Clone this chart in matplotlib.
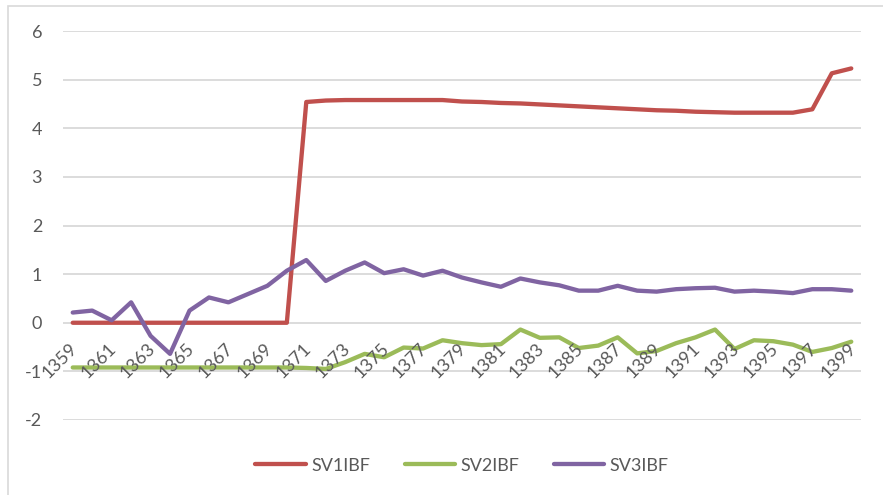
import matplotlib.pyplot as plt
from matplotlib.patches import Rectangle
from matplotlib.transforms import ScaledTranslation
import numpy as np

years = list(range(1359, 1400))

sv1 = [0, 0, 0, 0, 0, 0, 0, 0, 0, 0, 0, 0,
       4.54, 4.57, 4.58, 4.58, 4.58, 4.58, 4.58, 4.58, 4.55, 4.54,
       4.52, 4.51, 4.49, 4.47, 4.45, 4.43, 4.41, 4.39, 4.37, 4.36,
       4.34, 4.33, 4.32, 4.32, 4.32, 4.32, 4.39, 5.13, 5.23]

sv2 = [-0.92, -0.92, -0.92, -0.92, -0.92, -0.92, -0.92, -0.92, -0.92, -0.92,
       -0.92, -0.92, -0.93, -0.95, -0.81, -0.64, -0.71, -0.51, -0.53, -0.36,
       -0.42, -0.46, -0.44, -0.14, -0.31, -0.30, -0.52, -0.47, -0.30, -0.63,
       -0.58, -0.42, -0.30, -0.14, -0.54, -0.36, -0.38, -0.45, -0.60, -0.52,
       -0.39]

sv3 = [0.21, 0.25, 0.05, 0.42, -0.27, -0.64, 0.25, 0.52, 0.42, 0.59,
       0.76, 1.07, 1.29, 0.86, 1.07, 1.24, 1.02, 1.10, 0.97, 1.07,
       0.93, 0.83, 0.74, 0.91, 0.83, 0.77, 0.66, 0.66, 0.76, 0.66,
       0.64, 0.69, 0.71, 0.72, 0.64, 0.66, 0.64, 0.61, 0.69, 0.69,
       0.66]

labels = ['SV1IBF', 'SV2IBF', 'SV3IBF']
colors = ['#C0504D', '#9BBB59', '#8064A2']
tick_years = years[::2]

plt.rcParams['font.family'] = ['Lato', 'DejaVu Sans']
plt.rcParams['axes.unicode_minus'] = False
grey = '#595959'

fig = plt.figure(figsize=(8.83, 4.95), dpi=100)
ax = fig.add_axes([63 / 883, 1 - 420 / 495, (861 - 63) / 883, (420 - 31) / 495])

for series, lab, c in zip([sv1, sv2, sv3], labels, colors):
    ax.plot(years, series, color=c, lw=3.1, label=lab, solid_joinstyle='round',
            solid_capstyle='round', zorder=3)

ax.set_xlim(1358.5, 1399.5)
ax.set_ylim(-2, 6)
ax.set_yticks(range(-2, 7))
ax.yaxis.grid(True, color='#D9D9D9', lw=1.3)
ax.set_axisbelow(True)

for s in ['top', 'right', 'left', 'bottom']:
    ax.spines[s].set_visible(False)

# category labels sit on the zero line, drawn over the lines like Excel does
ax.set_xticks([])
off = ScaledTranslation(2 / 100, -23 / 100, fig.dpi_scale_trans)
for y in tick_years:
    ax.text(y, 0, str(y), rotation=45, ha='right', va='center',
            rotation_mode='anchor', fontsize=13, color=grey,
            transform=ax.transData + off, zorder=5)

ax.tick_params(axis='y', length=0, pad=15, labelsize=13, labelcolor=grey)

ax.legend(loc='upper center', bbox_to_anchor=(0.5, -0.055), ncol=3, frameon=False,
          fontsize=13, labelcolor=grey, handlelength=2.8, handletextpad=0.3,
          columnspacing=1.9)

fig.patches.append(Rectangle((8 / 883, -0.1), 1.2, 1.1 - 6 / 495,
                             transform=fig.transFigure, fill=False,
                             edgecolor='#D9D9D9', lw=1.2))

fig.savefig('out.png', dpi=100)
